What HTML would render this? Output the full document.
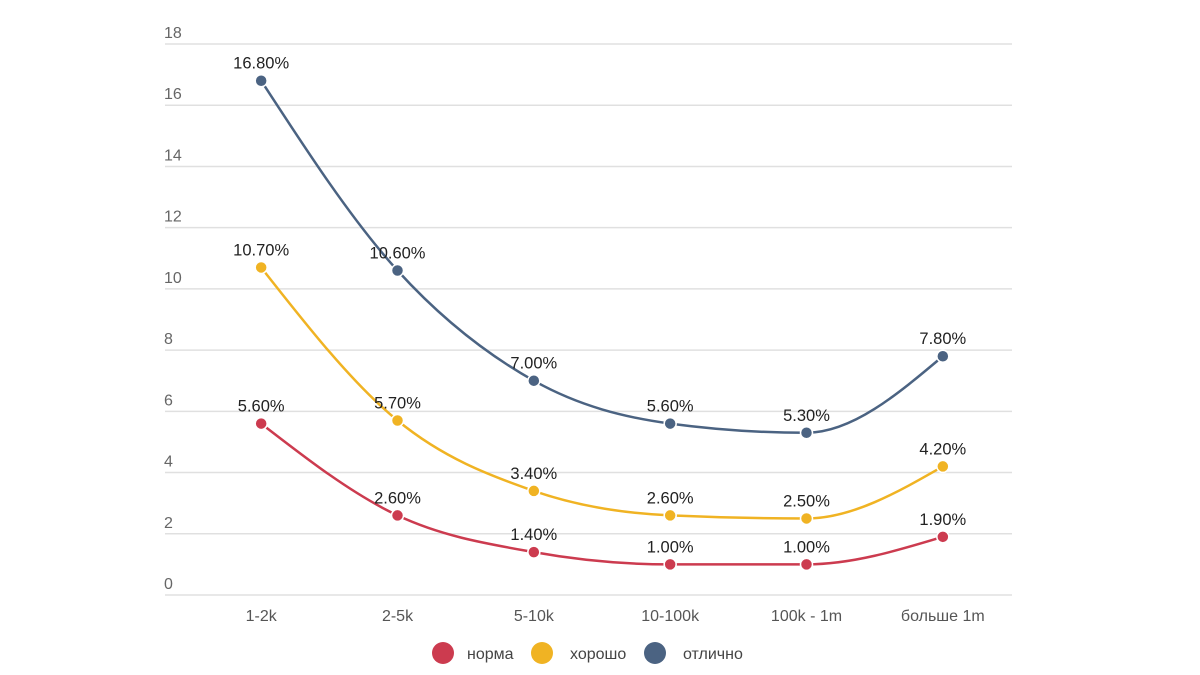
<!DOCTYPE html>
<html><head><meta charset="utf-8"><style>
body{margin:0;background:#fff;}
svg{display:block;font-family:"Liberation Sans","DejaVu Sans",sans-serif;}
</style></head><body>
<svg id="chart" width="1200" height="675">
<g id="grid"></g>
<g id="series"></g>
<g id="legend">
<circle cx="443" cy="653" r="11" fill="#cc3b4f"/>
<text x="467" y="659" font-size="16" fill="#444">норма</text>
<circle cx="542" cy="653" r="11" fill="#f0b323"/>
<text x="570" y="659" font-size="16" fill="#444">хорошо</text>
<circle cx="655" cy="653" r="11" fill="#4b6382"/>
<text x="683" y="659" font-size="16" fill="#444">отлично</text>
</g>
</svg>
<script>
const categories = ["1-2k","2-5k","5-10k","10-100k","100k - 1m","больше 1m"];
const norma = [5.6,2.6,1.4,1.0,1.0,1.9];
const horosho = [10.7,5.7,3.4,2.6,2.5,4.2];
const otlichno = [16.8,10.6,7.0,5.6,5.3,7.8];
const yTicks = [0,2,4,6,8,10,12,14,16,18];
const seriesNames = ["norma","horosho","otlichno"];
const seriesColors = ["#cc3b4f","#f0b323","#4b6382"];

const NS="http://www.w3.org/2000/svg";
const x0=193,x1=1011,yb=595,yt=44;
const band=(x1-x0)/categories.length;
const xs=i=>x0+band*(i+0.5);
const ys=v=>yb-(v/18)*(yb-yt);
function mk(tag,attrs,parent){const e=document.createElementNS(NS,tag);for(const k in attrs)e.setAttribute(k,attrs[k]);parent.appendChild(e);return e;}
const grid=document.getElementById('grid');
yTicks.forEach(t=>{
  const l=mk('line',{x1:165,x2:1012,y1:ys(t),y2:ys(t),stroke:'#e0e0e0','stroke-width':1.5},grid);
  
  
  const tx=mk('text',{x:164,y:ys(t)-6,'font-size':16,fill:'#666'},grid);
  tx.textContent=t;
  
  
});
categories.forEach((c,i)=>{
  const tx=mk('text',{x:xs(i),y:621,'font-size':16,fill:'#555','text-anchor':'middle'},grid);
  tx.textContent=c;
  
  
});
function monotonePath(pts){
  const n=pts.length,dx=[],s=[],m=[];
  for(let i=0;i<n-1;i++){dx[i]=pts[i+1][0]-pts[i][0];s[i]=(pts[i+1][1]-pts[i][1])/dx[i];}
  m[0]=s[0];m[n-1]=s[n-2];
  for(let i=1;i<n-1;i++){
    if(s[i-1]*s[i]<=0)m[i]=0;
    else{const p=(s[i-1]*dx[i]+s[i]*dx[i-1])/(dx[i-1]+dx[i]);
      m[i]=(Math.sign(s[i-1])+Math.sign(s[i]))*Math.min(Math.abs(s[i-1]),Math.abs(s[i]),0.5*Math.abs(p));}
  }
  m[0]=(3*s[0]-m[1])/2; m[n-1]=(3*s[n-2]-m[n-2])/2;
  let d='M'+pts[0][0]+','+pts[0][1];
  for(let i=0;i<n-1;i++){
    const h=dx[i]/3;
    d+=' C'+(pts[i][0]+h)+','+(pts[i][1]+m[i]*h)+' '+(pts[i+1][0]-h)+','+(pts[i+1][1]-m[i+1]*h)+' '+pts[i+1][0]+','+pts[i+1][1];
  }
  return d;
}
const sg=document.getElementById('series');
[norma,horosho,otlichno].forEach((vals,si)=>{
  const pts=vals.map((v,i)=>[xs(i),ys(v)]);
  const path=mk('path',{d:monotonePath(pts),fill:'none',stroke:seriesColors[si],'stroke-width':2.5},sg);
  
  
  pts.forEach((p,i)=>{
    const c=mk('circle',{cx:p[0],cy:p[1],r:6,fill:seriesColors[si],stroke:'#fff','stroke-width':1.5},sg);
    
    
    const t=mk('text',{x:p[0],y:p[1]-12,'font-size':16.5,fill:'#222','text-anchor':'middle'},sg);
    t.textContent=vals[i].toFixed(2)+'%';
    
    
  });
});
</script>
</body></html>
